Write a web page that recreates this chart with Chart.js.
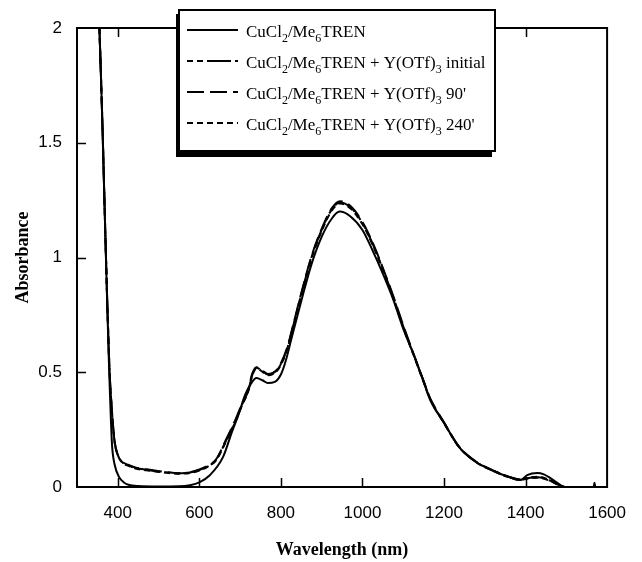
<!DOCTYPE html>
<html><head><meta charset="utf-8">
<style>html,body{margin:0;padding:0;background:#fff;}canvas{display:block;}</style>
<script src="https://cdn.jsdelivr.net/npm/chart.js@4.4.1/dist/chart.umd.min.js"></script>
</head><body>
<canvas id="c" width="642" height="562"></canvas>
<script>
// ---- data ----
const xTickValues = [400, 600, 800, 1000, 1200, 1400, 1600];
const xTickLabels = ["400", "600", "800", "1000", "1200", "1400", "1600"];
const yTickValues = [0, 0.5, 1, 1.5, 2];
const yTickLabels = ["0", "0.5", "1", "1.5", "2"];

const wlSolid = [355,362,368,374,379,383,386,392,403,415,426,450,500,550,577,600,625,658,680,697,712,725,740,755,768,785,800,812,825,850,875,900,925,944,970,1000,1025,1050,1075,1100,1125,1150,1166,1200,1237,1278,1316,1357,1388,1404,1429,1445,1460,1484,1493,1567,1569,1571];
const absSolid = [2.0,1.6,1.2,0.8,0.5,0.3,0.18,0.1,0.044,0.02,0.01,0.004,0.002,0.003,0.008,0.02,0.05,0.13,0.24,0.32,0.40,0.445,0.475,0.465,0.453,0.458,0.49,0.55,0.64,0.81,0.97,1.09,1.17,1.20,1.18,1.12,1.03,0.93,0.82,0.69,0.58,0.46,0.38,0.28,0.174,0.11,0.074,0.045,0.03,0.052,0.061,0.055,0.04,0.01,0,0,0.018,0];

const wlY = [355,362,368,374,380,387,392,400,410,425,443,470,498,530,553,580,600,620,641,665,689,705,720,730,740,755,768,780,795,815,830,850,875,900,925,945,970,1000,1025,1050,1075,1100,1125,1150,1166,1200,1237,1278,1316,1357,1388,1404,1430,1460,1484,1495];
const absInitial = [2.0,1.6,1.2,0.82,0.5,0.3,0.2,0.14,0.11,0.095,0.083,0.075,0.068,0.062,0.06,0.064,0.074,0.09,0.118,0.2,0.29,0.36,0.42,0.49,0.52,0.505,0.49,0.495,0.52,0.6,0.7,0.84,1.0,1.12,1.21,1.24,1.22,1.15,1.06,0.95,0.83,0.7,0.58,0.46,0.385,0.28,0.175,0.11,0.075,0.045,0.032,0.04,0.045,0.03,0.008,0];
const abs90 = [2.0,1.6,1.2,0.82,0.5,0.3,0.2,0.14,0.112,0.097,0.085,0.077,0.07,0.063,0.06,0.065,0.076,0.092,0.12,0.205,0.295,0.365,0.425,0.495,0.522,0.507,0.492,0.497,0.523,0.605,0.705,0.845,1.005,1.125,1.215,1.245,1.225,1.155,1.065,0.955,0.835,0.705,0.582,0.462,0.387,0.282,0.176,0.111,0.076,0.046,0.033,0.038,0.042,0.028,0.007,0];
const abs240 = [2.0,1.6,1.2,0.82,0.5,0.3,0.2,0.138,0.108,0.093,0.081,0.073,0.066,0.06,0.058,0.062,0.072,0.088,0.116,0.197,0.287,0.357,0.417,0.487,0.517,0.502,0.487,0.492,0.517,0.597,0.697,0.835,0.995,1.115,1.205,1.235,1.215,1.145,1.055,0.945,0.825,0.695,0.577,0.457,0.383,0.278,0.174,0.109,0.074,0.044,0.031,0.036,0.04,0.027,0.006,0];

// legend labels as [text, isSubscript] runs
const legendLabels = [
  [["CuCl",0],["2",1],["/Me",0],["6",1],["TREN",0]],
  [["CuCl",0],["2",1],["/Me",0],["6",1],["TREN + Y(OTf)",0],["3",1],[" initial",0]],
  [["CuCl",0],["2",1],["/Me",0],["6",1],["TREN + Y(OTf)",0],["3",1],[" 90'",0]],
  [["CuCl",0],["2",1],["/Me",0],["6",1],["TREN + Y(OTf)",0],["3",1],[" 240'",0]]
];
const dashes = [[], [6,4,6,4,24,4], [17,6], [6,4]];

const toPts = (xs, ys) => xs.map((x, i) => ({x: x, y: ys[i]}));

const ds = (pts, dash, order) => ({
  data: pts, borderColor: '#000', borderWidth: 2, borderDash: dash,
  pointRadius: 0, fill: false, cubicInterpolationMode: 'monotone', order: order
});

const frameAndTicks = {
  id: 'frameAndTicks',
  afterDatasetsDraw(chart) {
    const {ctx, chartArea: a, scales: {x, y}} = chart;
    ctx.save();
    ctx.strokeStyle = '#000';
    ctx.lineWidth = 2;
    ctx.setLineDash([]);
    ctx.strokeRect(a.left, a.top, a.right - a.left, a.bottom - a.top);
    ctx.lineWidth = 1.5;
    ctx.beginPath();
    xTickValues.forEach(v => {
      const px = Math.round(x.getPixelForValue(v)) + 0.5;
      if (px > a.right - 2) return;
      ctx.moveTo(px, a.bottom); ctx.lineTo(px, a.bottom - 9);
      ctx.moveTo(px, a.top); ctx.lineTo(px, a.top + 9);
    });
    yTickValues.forEach(v => {
      const py = Math.round(y.getPixelForValue(v)) + 0.5;
      if (py < a.top + 2 || py > a.bottom - 2) return;
      ctx.moveTo(a.left, py); ctx.lineTo(a.left + 9, py);
    });
    ctx.stroke();
    ctx.restore();
  }
};

const customLegend = {
  id: 'customLegend',
  afterDraw(chart) {
    const ctx = chart.ctx;
    const bx = 179, by = 10, bw = 316, bh = 141;
    ctx.save();
    ctx.fillStyle = '#000';
    ctx.fillRect(bx - 3, by + 4, bw, bh + 2);
    ctx.fillStyle = '#fff';
    ctx.fillRect(bx, by, bw, bh);
    ctx.strokeStyle = '#000';
    ctx.lineWidth = 2;
    ctx.strokeRect(bx, by, bw, bh);
    const rowsY = [30, 61, 92, 123];
    legendLabels.forEach((runs, i) => {
      const ly = rowsY[i];
      ctx.beginPath();
      ctx.setLineDash(dashes[i]);
      ctx.lineWidth = 2;
      ctx.moveTo(187, ly); ctx.lineTo(238, ly);
      ctx.stroke();
      ctx.setLineDash([]);
      let tx = 246;
      const base = ly + 7;
      ctx.fillStyle = '#000';
      ctx.textBaseline = 'alphabetic';
      ctx.textAlign = 'left';
      runs.forEach(([t, sub]) => {
        ctx.font = sub ? '12px "Liberation Serif", "Times New Roman", serif' : '17px "Liberation Serif", "Times New Roman", serif';
        ctx.fillText(t, tx, sub ? base + 5 : base);
        tx += ctx.measureText(t).width;
      });
    });
    ctx.restore();
  }
};

new Chart(document.getElementById('c'), {
  type: 'line',
  data: {
    datasets: [
      ds(toPts(wlSolid, absSolid), dashes[0], 1),
      ds(toPts(wlY, absInitial), dashes[1], 2),
      ds(toPts(wlY, abs90), dashes[2], 3),
      ds(toPts(wlY, abs240), dashes[3], 4)
    ]
  },
  options: {
    responsive: false,
    animation: false,
    layout: {padding: {left: 0, right: 20, top: 28, bottom: 0}},
    plugins: {legend: {display: false}, tooltip: {enabled: false}},
    scales: {
      x: {
        type: 'linear', min: 300, max: 1600,
        afterBuildTicks: s => { s.ticks = xTickValues.map(v => ({value: v})); },
        afterFit: s => { s.height = 75; },
        grid: {display: false, drawTicks: false},
        border: {display: false},
        ticks: {padding: 16, color: '#000', font: {family: '"Liberation Sans", Arial, sans-serif', size: 17}, maxRotation: 0, autoSkip: false,
                callback: (v) => xTickLabels[xTickValues.indexOf(v)]},
        title: {display: true, text: 'Wavelength (nm)', color: '#000',
                font: {family: '"Liberation Serif", "Times New Roman", serif', size: 18, weight: 'bold'},
                padding: {top: 0, bottom: 1}}
      },
      y: {
        min: 0, max: 2,
        afterBuildTicks: s => { s.ticks = yTickValues.map(v => ({value: v})); },
        afterFit: s => { s.width = 77; },
        grid: {display: false, drawTicks: false},
        border: {display: false},
        ticks: {padding: 15, color: '#000', font: {family: '"Liberation Sans", Arial, sans-serif', size: 17},
                callback: (v) => yTickLabels[yTickValues.indexOf(v)]},
        title: {display: true, text: 'Absorbance', color: '#000',
                font: {family: '"Liberation Serif", "Times New Roman", serif', size: 18, weight: 'bold'},
                padding: {top: 13, bottom: 0}}
      }
    }
  },
  plugins: [frameAndTicks, customLegend]
});
</script>
</body></html>
